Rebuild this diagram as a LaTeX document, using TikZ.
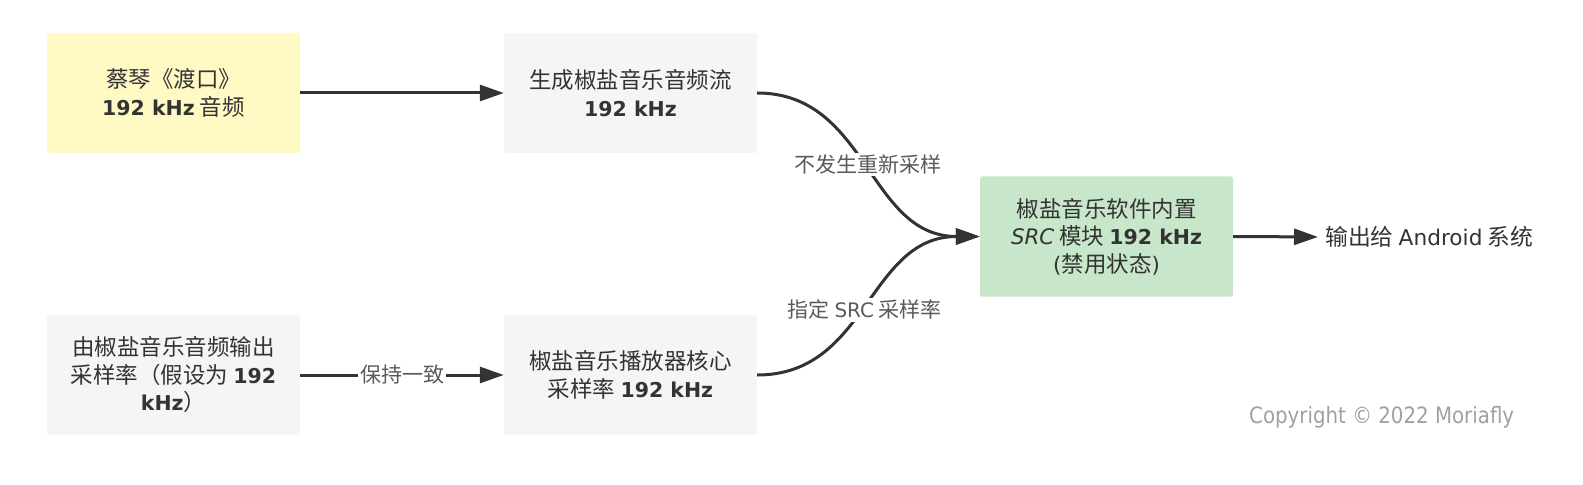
\documentclass[tikz,border=0pt]{standalone}
\usepackage{fontspec}
\setmainfont{Noto Sans CJK SC}
\newfontfamily\latr{DejaVu Sans}[Scale=0.95]
\newfontfamily\latb{DejaVu Sans}[Scale=0.91]
\newfontfamily\copyfont{DejaVu Sans}
\newcommand\lt[1]{{\latr #1}}
\newcommand\lb[1]{{\latb\bfseries #1}}
\usetikzlibrary{arrows.meta}
\definecolor{ink}{HTML}{333333}
\definecolor{lab}{HTML}{5A5A5A}
\definecolor{ybox}{HTML}{FFF9C4}
\definecolor{gbox}{HTML}{F5F5F5}
\definecolor{grbox}{HTML}{C8E6C9}
\definecolor{copyc}{HTML}{A0A0A0}
\tikzset{
  box/.style={rectangle, rounded corners=2bp, minimum width=253bp, minimum height=120bp, inner sep=0pt,
    align=center, text=ink, font=\fontsize{22.5bp}{27.5bp}\selectfont},
  conn/.style={draw=ink, line width=3bp, -{Triangle[length=24bp,width=16bp]}},
  elab/.style={fill=white, text=lab, inner sep=2bp, font=\fontsize{21bp}{24bp}\selectfont}
}
\begin{document}
\begin{tikzpicture}[x=1bp,y=-1bp]
\useasboundingbox (0,0) rectangle (1583,485);
\node[box, fill=ybox] (a) at (173.5,93) {蔡琴《渡口》\\ \lb{192 kHz} 音频};
\node[box, fill=gbox] (b) at (630.5,93) {生成椒盐音乐音频流\\ \lb{192 kHz}};
\node[box, fill=grbox] (c) at (1106.5,236.5) {椒盐音乐软件内置\\ \lt{\itshape SRC} 模块 \lb{192 kHz}\\ \lt{(}禁用状态\lt{)}};
\node[box, fill=gbox] (d) at (173.5,375) {由椒盐音乐音频输出\\ 采样率（假设为 \lb{192}\\ \lb{kHz}）};
\node[box, fill=gbox] (e) at (630.5,375) {椒盐音乐播放器核心\\ 采样率 \lb{192 kHz}};
\node[anchor=west, inner sep=0pt, text=ink, font=\fontsize{22.8bp}{26bp}\selectfont] (out) at (1325,237) {输出给 \lt{Android} 系统};
\node[anchor=west, inner sep=0pt, text=copyc, font=\copyfont\fontsize{22.5bp}{24bp}\selectfont] (cr) at (1249,417) {\scalebox{0.88}[1]{Copyright © 2022 Moriafly}};

\draw[conn] (a.east) -- (b.west);
\draw[conn] (b.east) .. controls (868,93) and (868,236.5) .. (c.west)
  node[pos=0.5, elab] (l1) {不发生重新采样};
\draw[conn] (e.east) .. controls (868,375) and (868,236.5) .. (c.west)
  node[pos=0.48, elab] (l2) {指定 \lt{SRC} 采样率};
\draw[conn] (d.east) -- (e.west) node[pos=0.5, elab] (l3) {保持一致};
\draw[conn, shorten >=7bp] (c.east) -- (out.west);
\end{tikzpicture}
\end{document}
